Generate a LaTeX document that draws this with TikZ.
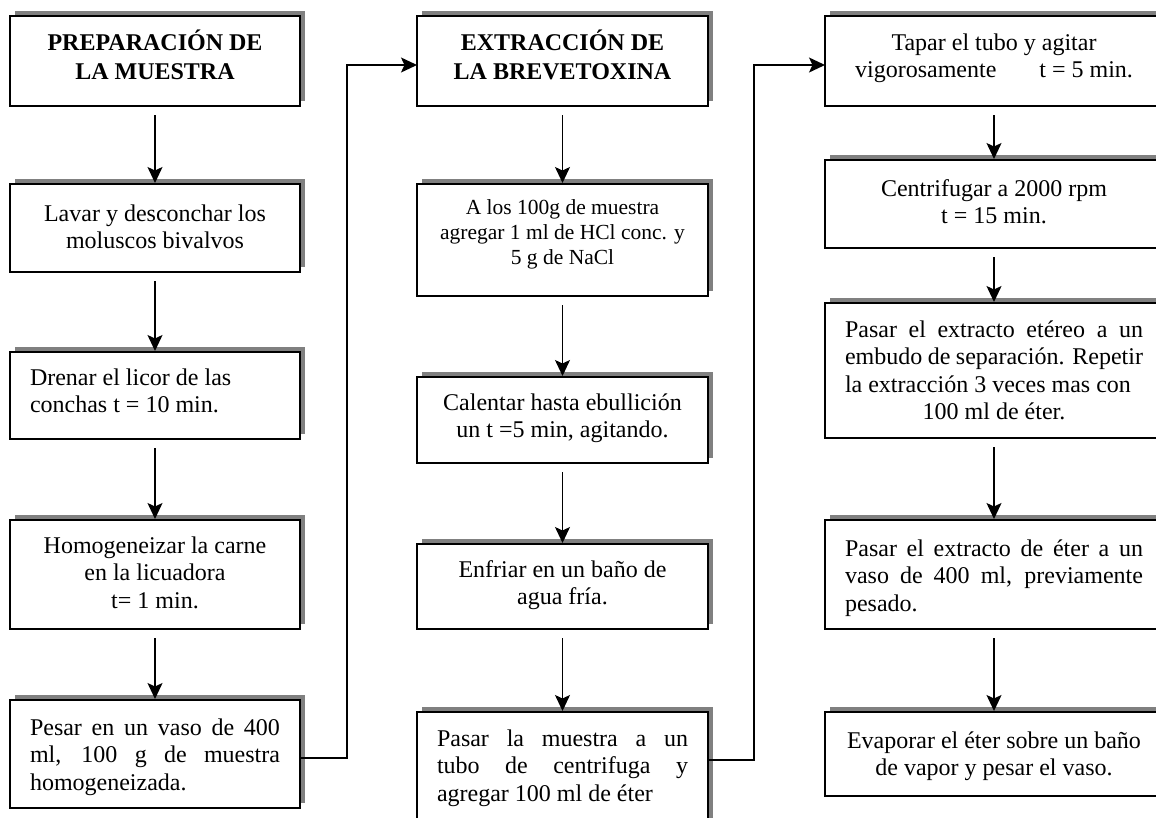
\documentclass[tikz,border=0pt]{standalone}
\usepackage{fontspec}
\setmainfont{Liberation Serif}
\usetikzlibrary{shadows,arrows.meta}
\definecolor{shadowgray}{RGB}{128,128,128}
% #1 height, #2 width, #3 alignment, #4 first baseline, #5 text
\newcommand{\bxt}[5]{\parbox[c][#1pt][t]{#2pt}{\hyphenpenalty=10000 \exhyphenpenalty=10000 \tolerance=10000 \emergencystretch=20pt #3\rule{0pt}{#4pt}#5}}
\begin{document}
\begin{tikzpicture}[x=1pt,y=-1pt,
  box/.style={draw=black, fill=white, line width=1.3pt, inner xsep=20pt, inner ysep=0pt, outer sep=0pt,
    anchor=north west, font=\fontsize{24pt}{27.5pt}\selectfont,
    general shadow={fill=shadowgray, shadow xshift=5pt, shadow yshift=5pt}},
  small/.style={font=\fontsize{21.5pt}{25pt}\selectfont},
  conn/.style={line width=1.5pt, -{Stealth[length=16pt,width=15pt,inset=3.5pt]}},
  down/.style={conn, shorten <=9pt, shorten >=1pt}]
\useasboundingbox (0,0) rectangle (1156,817);
\begin{scope}
\clip (0,0) rectangle (1156,817);
% column 1
\node[box] (a1) at (10,16) {\bxt{90}{250}{\centering\bfseries}{34}{PREPARACIÓN DE\\[1.5pt]LA MUESTRA}};
\node[box] (a2) at (10,184) {\bxt{88}{250}{\centering}{37}{Lavar y desconchar los\\moluscos bivalvos}};
\node[box] (a3) at (10,352) {\bxt{87}{250}{\raggedright}{33}{Drenar el licor de las\\conchas t = 10 min.}};
\node[box] (a4) at (10,520) {\bxt{109}{250}{\centering}{33}{Homogeneizar la carne\\en la licuadora\\t= 1 min.}};
\node[box] (a5) at (10,700) {\bxt{108}{250}{}{35}{Pesar en un vaso de 400\linebreak ml, 100 g de muestra\linebreak homogeneizada.}};
% column 2
\node[box] (b1) at (417,16) {\bxt{90}{251}{\centering\bfseries}{34}{EXTRACCIÓN DE\\[1.5pt]LA BREVETOXINA}};
\node[box, small] (b2) at (417,184) {\bxt{112}{251}{\centering}{30}{A los 100g de muestra\\agregar 1 ml de HCl conc. y\\5 g de NaCl}};
\node[box] (b3) at (417,377) {\bxt{86}{251}{\centering}{33}{Calentar hasta ebullición\\un t =5 min, agitando.}};
\node[box] (b4) at (417,544) {\bxt{85}{251}{\centering}{33}{Enfriar en un baño de\\agua fría.}};
\node[box] (b5) at (417,712) {\bxt{120}{251}{}{34}{Pasar la muestra a un\linebreak tubo de centrifuga y\linebreak agregar 100 ml de éter}};
% column 3
\node[box] (c1) at (825,16) {\bxt{90}{298}{\centering}{34}{Tapar el tubo y agitar\\vigorosamente\hspace{37pt} t = 5 min.}};
\node[box] (c2) at (825,160) {\bxt{88}{298}{\centering}{36}{Centrifugar a 2000 rpm\\t = 15 min.}};
\node[box] (c3) at (825,303) {\bxt{135}{298}{}{34}{Pasar el extracto etéreo a un\linebreak embudo de separación. Repetir\linebreak la extracción 3 veces mas con\par\centering 100 ml de éter.}};
\node[box] (c4) at (825,520) {\bxt{109}{298}{}{36}{Pasar el extracto de éter a un\linebreak vaso de 400 ml, previamente\linebreak pesado.}};
\node[box] (c5) at (825,712) {\bxt{84}{298}{\centering}{36}{Evaporar el éter sobre un baño\\de vapor y pesar el vaso.}};
% vertical arrows
\draw[down] (a1.south) -- (a2.north);
\draw[down] (a2.south) -- (a3.north);
\draw[down] (a3.south) -- (a4.north);
\draw[down] (a4.south) -- (a5.north);
\draw[down] (b1.south) -- (b2.north);
\draw[down] (b2.south) -- (b3.north);
\draw[down] (b3.south) -- (b4.north);
\draw[down] (b4.south) -- (b5.north);
\draw[down] (c1.south) -- (c2.north);
\draw[down] (c2.south) -- (c3.north);
\draw[down] (c3.south) -- (c4.north);
\draw[down] (c4.south) -- (c5.north);
% column links
\draw[conn] ([yshift=-4pt]a5.east) -- ++(47,0) |- ([yshift=-4pt]b1.west);
\draw[conn] ([yshift=12pt]b5.east) -- ++(46,0) |- ([yshift=-4pt]c1.west);
\end{scope}
\end{tikzpicture}
\end{document}
